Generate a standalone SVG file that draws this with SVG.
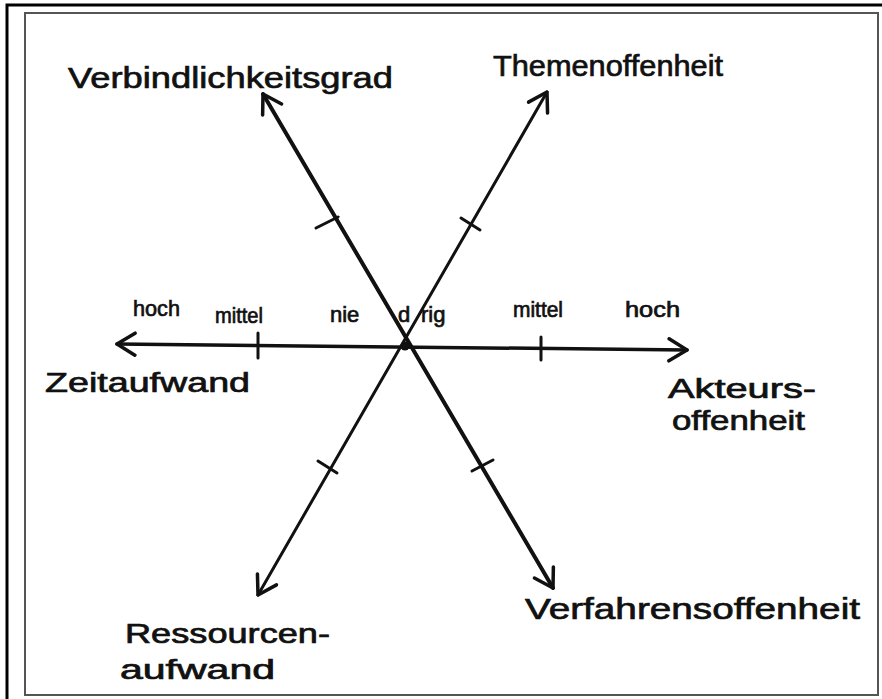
<svg xmlns="http://www.w3.org/2000/svg" width="882" height="699" viewBox="0 0 882 699">
<style>
.lbl{font-family:"Liberation Sans","DejaVu Sans",sans-serif;fill:#111;stroke:#111;stroke-width:0.7px;}
.big{font-size:30px;}
.mid{font-size:27px;}
.sm{font-size:22px;}
.axis{stroke:#111;fill:none;stroke-linecap:round;marker-start:url(#arr);marker-end:url(#arr);}
.tick{stroke:#111;stroke-width:3;stroke-linecap:round;}
</style>
<defs>
<marker id="arr" viewBox="0 0 22 26" refX="20" refY="13" markerWidth="22" markerHeight="26" markerUnits="userSpaceOnUse" orient="auto-start-reverse">
<path d="M2,2 L20,13 L2,24" fill="none" stroke="#111" stroke-width="3.5" stroke-linecap="round" stroke-linejoin="round"/>
</marker>
</defs>
<rect width="882" height="699" fill="#fff"/>
<g id="frame">
<path d="M7,699 V5 H882" fill="none" stroke="#000" stroke-width="3"/>
<rect x="25" y="13" width="853" height="682" fill="none" stroke="#555" stroke-width="2"/>
</g>
<g id="connectors">
<line class="axis" x1="117" y1="344" x2="687" y2="350" stroke-width="3.5"/>
<line class="axis" x1="263" y1="94" x2="553" y2="588" stroke-width="4"/>
<line class="axis" x1="547" y1="92" x2="258" y2="595" stroke-width="3"/>
<line class="tick" x1="258" y1="333" x2="258" y2="358"/>
<line class="tick" x1="541" y1="337" x2="541" y2="360"/>
<line class="tick" x1="316" y1="228" x2="338" y2="217"/>
<line class="tick" x1="472" y1="471" x2="493" y2="460"/>
<line class="tick" x1="461" y1="218" x2="480" y2="230"/>
<line class="tick" x1="318" y1="461" x2="337" y2="473"/>
<circle cx="405" cy="346" r="4.5" fill="#111"/>
</g>
<g id="verbindlichkeitsgrad"><text class="lbl big" x="68" y="88" textLength="325" lengthAdjust="spacingAndGlyphs">Verbindlichkeitsgrad</text></g>
<g id="themenoffenheit"><text class="lbl big" x="493" y="76" textLength="230" lengthAdjust="spacingAndGlyphs">Themenoffenheit</text></g>
<g id="scale-left">
<text class="lbl sm" x="133" y="316" textLength="47" lengthAdjust="spacingAndGlyphs">hoch</text>
<text class="lbl sm" x="215" y="323" textLength="48" lengthAdjust="spacingAndGlyphs">mittel</text>
</g>
<g id="scale-center">
<text class="lbl sm" y="322"><tspan x="330">nie</tspan><tspan x="398">d</tspan><tspan x="421">rig</tspan></text>
</g>
<g id="scale-right">
<text class="lbl sm" x="513" y="317" textLength="50" lengthAdjust="spacingAndGlyphs">mittel</text>
<text class="lbl sm" x="625" y="317" textLength="55" lengthAdjust="spacingAndGlyphs">hoch</text>
</g>
<g id="zeitaufwand"><text class="lbl mid" x="45" y="392" textLength="205" lengthAdjust="spacingAndGlyphs">Zeitaufwand</text></g>
<g id="akteursoffenheit">
<text class="lbl mid" x="668" y="398" textLength="148" lengthAdjust="spacingAndGlyphs">Akteurs-</text>
<text class="lbl mid" x="672" y="430" textLength="133" lengthAdjust="spacingAndGlyphs">offenheit</text>
</g>
<g id="verfahrensoffenheit"><text class="lbl big" x="525" y="619" textLength="335" lengthAdjust="spacingAndGlyphs">Verfahrensoffenheit</text></g>
<g id="ressourcenaufwand">
<text class="lbl mid" x="125" y="643" textLength="205" lengthAdjust="spacingAndGlyphs">Ressourcen-</text>
<text class="lbl mid" x="120" y="679" textLength="155" lengthAdjust="spacingAndGlyphs">aufwand</text>
</g>
</svg>
